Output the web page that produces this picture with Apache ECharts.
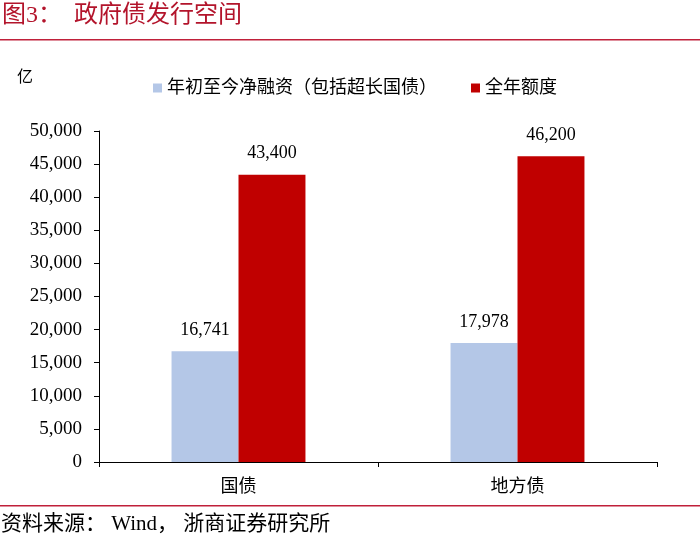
<!DOCTYPE html>
<html>
<head>
<meta charset="utf-8">
<script src="https://cdn.jsdelivr.net/npm/echarts@6/dist/echarts.min.js"></script>
<style>html,body{margin:0;padding:0;background:#fff}#c{width:700px;height:548px}</style>
</head>
<body>
<div id="c"></div>
<script>
var categories = ['国债', '地方债'];
var seriesNames = ['年初至今净融资（包括超长国债）', '全年额度'];
var netFinancing = [16741, 17978];
var annualQuota = [43400, 46200];
var yTicks = [0, 5000, 10000, 15000, 20000, 25000, 30000, 35000, 40000, 45000, 50000];

var FONT = '"Liberation Serif", "Noto Sans CJK SC", serif';
function fmt(v) { return Number(v).toLocaleString('en-US'); }

var chart = echarts.init(document.getElementById('c'), null, {renderer: 'canvas'});
chart.setOption({
  backgroundColor: '#fff',
  animation: false,
  textStyle: {fontFamily: FONT},
  graphic: [
    {type: 'text', left: 2, top: 4, style: {text: '图3：  政府债发行空间', fill: '#B3142B', font: '24px ' + FONT}},
    {type: 'rect', shape: {x: 0, y: 39, width: 700, height: 1.5}, style: {fill: '#C0203A'}},
    {type: 'text', left: 17, top: 70, style: {text: '亿', fill: '#000', font: '16px ' + FONT}},
    {type: 'rect', shape: {x: 0, y: 505, width: 700, height: 1.5}, style: {fill: '#C0203A'}},
    {type: 'text', left: 1, top: 514, style: {text: '资料来源： Wind， 浙商证券研究所', fill: '#000', font: '21px ' + FONT}}
  ],
  legend: {
    top: 74, left: 148,
    itemWidth: 9, itemHeight: 9, itemGap: 34,
    icon: 'rect',
    textStyle: {fontSize: 18, color: '#000', fontFamily: FONT},
    data: seriesNames
  },
  grid: {left: 99, right: 43, top: 131, bottom: 86, containLabel: false},
  xAxis: {
    type: 'category',
    data: categories,
    axisLine: {lineStyle: {color: '#000', width: 1}},
    axisTick: {show: true, length: 5, lineStyle: {color: '#000'}},
    axisLabel: {fontSize: 18, color: '#000', margin: 16, fontFamily: FONT}
  },
  yAxis: {
    type: 'value',
    min: 0, max: 50000, interval: 5000,
    axisLine: {show: true, lineStyle: {color: '#000', width: 1}},
    axisTick: {show: true, length: 5, lineStyle: {color: '#000'}},
    splitLine: {show: false},
    axisLabel: {fontSize: 19, color: '#000', margin: 17, fontFamily: FONT, formatter: fmt}
  },
  series: [
    {
      name: seriesNames[0], type: 'bar', data: netFinancing,
      itemStyle: {color: '#B4C7E7'},
      barGap: '0%', barCategoryGap: '52%',
      label: {show: true, position: 'top', distance: 12, fontSize: 18, color: '#000', fontFamily: FONT, formatter: function(p){return fmt(p.value);}}
    },
    {
      name: seriesNames[1], type: 'bar', data: annualQuota,
      itemStyle: {color: '#C00000'},
      barGap: '0%', barCategoryGap: '52%',
      label: {show: true, position: 'top', distance: 12, fontSize: 18, color: '#000', fontFamily: FONT, formatter: function(p){return fmt(p.value);}}
    }
  ]
});
</script>
</body>
</html>
